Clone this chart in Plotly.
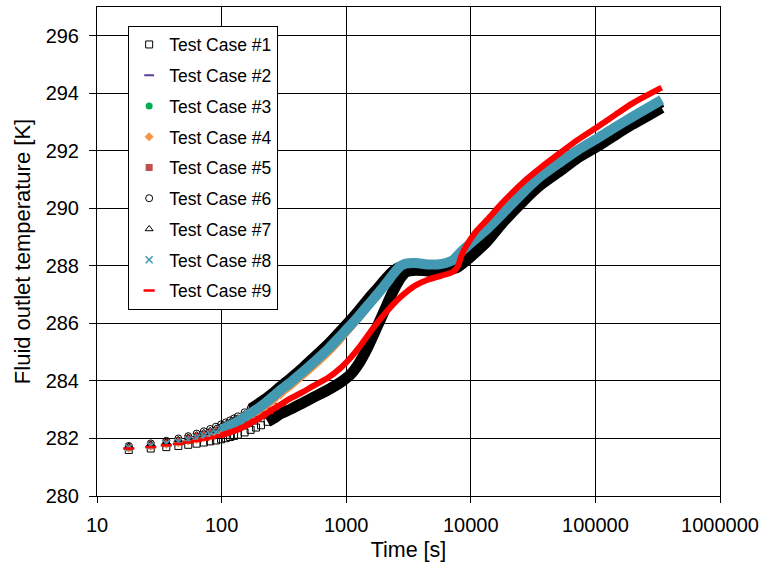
import plotly.graph_objects as go

# ---------------- data ----------------
TIME = [18, 27, 36, 45, 54, 63, 72, 81, 90, 99, 108, 117, 126, 135, 153, 171, 189, 207, 234, 261, 297,
        360, 450, 540, 720, 900, 1080, 1260, 1500, 1800, 2100, 2400, 2700, 3000,
        3600, 4500, 5400, 6300, 7200, 7800, 8400, 9000,
        10800, 13500, 18000, 27000, 36000, 54000, 72000, 108000, 144000, 198000, 270000, 340200]

TC1 = [281.60, 281.65, 281.70, 281.74, 281.78, 281.82, 281.86, 281.90, 281.93, 281.97, 282.01, 282.05, 282.09, 282.13, 282.21, 282.30, 282.38, 282.46, 282.58, 282.70, 282.86,
       283.02, 283.24, 283.42, 283.70, 283.95, 284.22, 284.60, 285.20, 285.95, 286.60, 287.15, 287.55, 287.78,
       287.85, 287.82, 287.83, 287.86, 287.90, 287.95, 288.05, 288.15,
       288.45, 288.85, 289.50, 290.30, 290.80, 291.35, 291.75, 292.20, 292.55, 292.92, 293.25, 293.50]

TC2 = [281.67, 281.74, 281.80, 281.86, 281.92, 281.99, 282.05, 282.12, 282.18, 282.25, 282.31, 282.38, 282.45, 282.51, 282.64, 282.77, 282.89, 283.01, 283.19, 283.36, 283.57,
       283.86, 284.22, 284.52, 285.02, 285.46, 285.86, 286.19, 286.60, 287.00, 287.36, 287.70, 287.96, 288.06,
       288.08, 288.04, 288.04, 288.09, 288.19, 288.34, 288.49, 288.61,
       288.90, 289.26, 289.80, 290.58, 291.08, 291.63, 292.00, 292.46, 292.80, 293.16, 293.50, 293.75]

TC3 = [281.67, 281.74, 281.81, 281.87, 281.93, 282.00, 282.07, 282.13, 282.20, 282.27, 282.34, 282.41, 282.47, 282.53, 282.67, 282.81, 282.93, 283.05, 283.23, 283.40, 283.61,
       283.90, 284.26, 284.56, 285.06, 285.50, 285.89, 286.22, 286.62, 287.02, 287.38, 287.71, 287.97, 288.07,
       288.09, 288.04, 288.04, 288.09, 288.19, 288.34, 288.49, 288.61,
       288.90, 289.26, 289.80, 290.58, 291.08, 291.63, 292.00, 292.46, 292.80, 293.16, 293.50, 293.75]

TC4 = [281.66, 281.73, 281.79, 281.85, 281.91, 281.97, 282.03, 282.09, 282.15, 282.21, 282.28, 282.34, 282.40, 282.46, 282.59, 282.73, 282.85, 282.97, 283.14, 283.31, 283.51,
       283.78, 284.14, 284.44, 284.94, 285.38, 285.78, 286.12, 286.54, 286.95, 287.32, 287.67, 287.95, 288.06,
       288.08, 288.03, 288.03, 288.08, 288.18, 288.33, 288.48, 288.60,
       288.88, 289.24, 289.78, 290.55, 291.05, 291.60, 291.97, 292.43, 292.77, 293.13, 293.47, 293.72]

TC5 = [281.70, 281.78, 281.86, 281.93, 282.01, 282.08, 282.15, 282.22, 282.29, 282.37, 282.44, 282.52, 282.59, 282.66, 282.81, 282.96, 283.08, 283.20, 283.36, 283.52, 283.72,
       284.01, 284.37, 284.67, 285.17, 285.61, 285.99, 286.31, 286.70, 287.09, 287.45, 287.76, 287.98, 288.06,
       288.06, 288.02, 288.03, 288.08, 288.18, 288.33, 288.48, 288.60,
       288.90, 289.26, 289.80, 290.57, 291.07, 291.62, 291.99, 292.45, 292.79, 293.15, 293.49, 293.74]

TC6 = [281.74, 281.83, 281.92, 282.00, 282.08, 282.17, 282.25, 282.33, 282.41, 282.49, 282.56, 282.63, 282.70, 282.77, 282.91, 283.05, 283.17, 283.29, 283.45, 283.61, 283.82,
       284.12, 284.48, 284.80, 285.31, 285.76, 286.13, 286.47, 286.87, 287.26, 287.60, 287.85, 287.98, 288.00,
       287.97, 287.93, 287.96, 288.03, 288.10, 288.23, 288.38, 288.50,
       288.78, 289.18, 289.73, 290.48, 290.93, 291.53, 291.93, 292.38, 292.73, 293.08, 293.43, 293.68]

TC7 = [281.72, 281.80, 281.88, 281.96, 282.04, 282.12, 282.20, 282.27, 282.35, 282.43, 282.50, 282.57, 282.64, 282.71, 282.85, 282.99, 283.11, 283.23, 283.39, 283.55, 283.76,
       284.06, 284.42, 284.74, 285.25, 285.70, 286.08, 286.42, 286.82, 287.21, 287.56, 287.82, 287.96, 288.01,
       287.99, 287.95, 287.97, 288.03, 288.11, 288.24, 288.39, 288.51,
       288.79, 289.17, 289.71, 290.45, 290.92, 291.52, 291.92, 292.38, 292.72, 293.08, 293.42, 293.68]

TC8 = [281.68, 281.75, 281.82, 281.88, 281.95, 282.02, 282.09, 282.16, 282.23, 282.31, 282.38, 282.45, 282.52, 282.59, 282.74, 282.88, 283.00, 283.12, 283.30, 283.47, 283.68,
       283.96, 284.32, 284.62, 285.12, 285.56, 285.93, 286.25, 286.64, 287.04, 287.40, 287.73, 287.98, 288.08,
       288.10, 288.05, 288.05, 288.10, 288.20, 288.35, 288.50, 288.62,
       288.92, 289.28, 289.82, 290.60, 291.10, 291.65, 292.02, 292.48, 292.82, 293.18, 293.52, 293.77]

TC9 = [281.65, 281.70, 281.76, 281.81, 281.86, 281.91, 281.96, 282.01, 282.06, 282.11, 282.16, 282.21, 282.26, 282.31, 282.42, 282.54, 282.64, 282.74, 282.89, 283.03, 283.18,
       283.40, 283.62, 283.82, 284.12, 284.45, 284.80, 285.15, 285.60, 286.05, 286.40, 286.68, 286.90, 287.07,
       287.32, 287.52, 287.62, 287.70, 287.80, 287.95, 288.35, 288.62,
       289.15, 289.60, 290.20, 290.95, 291.40, 291.98, 292.38, 292.88, 293.25, 293.65, 293.97, 294.20]

SERIES_NAMES = ["Test Case #1", "Test Case #2", "Test Case #3", "Test Case #4", "Test Case #5",
                "Test Case #6", "Test Case #7", "Test Case #8", "Test Case #9"]
SERIES_VALUES = [TC1, TC2, TC3, TC4, TC5, TC6, TC7, TC8, TC9]

X_TICK_VALS = [10, 100, 1000, 10000, 100000, 1000000]
X_TICK_TEXT = ["10", "100", "1000", "10000", "100000", "1000000"]
Y_TICK_VALS = [280, 282, 284, 286, 288, 290, 292, 294, 296]

# ---------------- styles ----------------
STYLES = [
    dict(symbol="square-open", color="#000000", size=7, mlw=1, lw=11, line_from=234),
    dict(symbol="line-ew-open", color="#5a3e9c", size=7, mlw=2, lw=4, line_from=99),
    dict(symbol="circle", color="#00b050", size=7, mlw=0, lw=5, line_from=99),
    dict(symbol="diamond", color="#f79646", size=7, mlw=0, lw=5, line_from=99),
    dict(symbol="square", color="#c0504d", size=7, mlw=0, lw=6, line_from=99),
    dict(symbol="circle-open", color="#000000", size=7, mlw=1, lw=10, line_from=171),
    dict(symbol="triangle-up-open", color="#000000", size=7, mlw=1, lw=9, line_from=171),
    dict(symbol="x-thin-open", color="#4499b2", size=7, mlw=1.6, lw=10, line_from=99),
    dict(symbol="line-ew-open", color="#ff0000", size=8, mlw=2.5, lw=6, line_from=99),
]
MARKER_TO = 297

fig = go.Figure()
for name, vals, st in zip(SERIES_NAMES, SERIES_VALUES, STYLES):
    lx = [t for t in TIME if t >= st["line_from"]]
    ly = [v for t, v in zip(TIME, vals) if t >= st["line_from"]]
    fig.add_trace(go.Scatter(x=lx, y=ly, mode="lines", showlegend=False, legendgroup=name,
                             hoverinfo="skip",
                             line=dict(color=st["color"], width=st["lw"], shape="spline", smoothing=0.8)))
    mx = [t for t in TIME if t <= MARKER_TO]
    my = [v for t, v in zip(TIME, vals) if t <= MARKER_TO]
    mk = dict(symbol=st["symbol"], size=st["size"], color=st["color"])
    if st["mlw"]:
        mk["line"] = dict(color=st["color"], width=st["mlw"])
    fig.add_trace(go.Scatter(x=mx, y=my, mode="markers", name=name, legendgroup=name, marker=mk))

FONT = "Liberation Sans, Arial, sans-serif"

fig.update_layout(
    width=766, height=569,
    margin=dict(l=97, r=46, t=7, b=73),
    paper_bgcolor="white", plot_bgcolor="white",
    font=dict(family=FONT, color="#000000"),
    showlegend=True,
    legend=dict(x=0.05, y=0.962, xanchor="left", yanchor="top",
                bgcolor="white", bordercolor="#000000", borderwidth=1,
                font=dict(size=17.5, family=FONT, color="#000000"),
                tracegroupgap=5, itemwidth=30),
    xaxis=dict(type="log", range=[1, 6], tickvals=X_TICK_VALS, ticktext=X_TICK_TEXT,
               showgrid=True, gridcolor="#000000", gridwidth=1,
               showline=True, linecolor="#000000", linewidth=1, mirror=True,
               ticks="outside", ticklen=6, tickcolor="#000000",
               tickfont=dict(size=20, family=FONT), ticklabelstandoff=5,
               title=dict(text="Time [s]", font=dict(size=21.5, family=FONT), standoff=6),
               zeroline=False),
    yaxis=dict(range=[280, 297], tickvals=Y_TICK_VALS,
               showgrid=True, gridcolor="#000000", gridwidth=1,
               showline=True, linecolor="#000000", linewidth=1, mirror=True,
               ticks="outside", ticklen=7, tickcolor="#000000",
               tickfont=dict(size=20, family=FONT), ticklabelstandoff=6,
               title=dict(text="Fluid outlet temperature [K]", font=dict(size=22, family=FONT), standoff=8),
               zeroline=False),
)

fig.write_html("out.html")
